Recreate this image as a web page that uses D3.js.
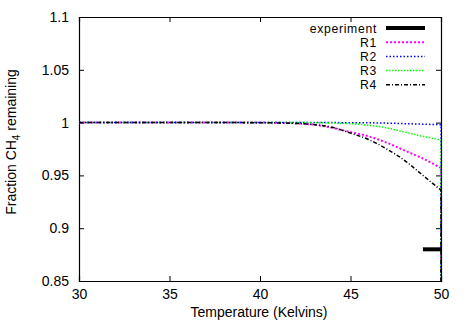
<!DOCTYPE html>
<html><head><meta charset="utf-8">
<script src="https://cdn.jsdelivr.net/npm/d3@7"></script>
<style>body{margin:0;background:#fff}svg{font-family:"Liberation Sans",Arial,sans-serif}</style>
</head><body><svg id="c" width="467" height="327"></svg>
<script>
const temps = [30,32,34,36,38,40,41,42,43,44,45,46,47,48,49,50];
const r1 = [1,1,1,1,1,1,0.9998,0.9993,0.998,0.995,0.991,0.987,0.981,0.9735,0.966,0.957];
const r2 = [1,1,1,1,1,1,1,1,1,1,0.9999,0.9998,0.9995,0.999,0.9985,0.998];
const r3 = [1,1,1,1,1,1,1,1,0.9999,0.9996,0.999,0.9975,0.995,0.991,0.987,0.9835];
const r4 = [1,1,1,1,1,0.9999,0.9997,0.9992,0.998,0.9955,0.990,0.984,0.975,0.964,0.950,0.936];
const dropTo = 0.85;
const expT = [49,50];
const expV = [0.88,0.88];
const xTicks = [30,35,40,45,50];
const yTicks = [0.85,0.9,0.95,1,1.05,1.1];
const seriesNames = ["R1","R2","R3","R4"];

const svg = d3.select("#c");
const L=79, R=441, T=17, B=281;
const FS = 14;
const x = d3.scaleLinear().domain([30,50]).range([L,R]);
const y = d3.scaleLinear().domain([0.85,1.1]).range([B,T]);

const styles = [
  {color:"#ff00ff", dash:"2,2", w:2},
  {color:"#0000ff", dash:"1.5,2", w:1.5},
  {color:"#00ff00", dash:"1.5,1.5", w:1.5},
  {color:"#000000", dash:"4,2,1,2", w:1.5}
];
const data = [r1,r2,r3,r4];

svg.append("defs").append("clipPath").attr("id","clip")
  .append("rect").attr("x",L).attr("y",T).attr("width",R-L).attr("height",B-T);

const fmt = d => String(+d.toFixed(2));
const gx = svg.append("g").attr("transform",`translate(0,${B})`)
  .call(d3.axisBottom(x).tickValues(xTicks).tickSize(-5).tickPadding(8).tickFormat(fmt));
const gxt = svg.append("g").attr("transform",`translate(0,${T})`)
  .call(d3.axisTop(x).tickValues(xTicks).tickSize(-5).tickFormat(""));
const gy = svg.append("g").attr("transform",`translate(${L},0)`)
  .call(d3.axisLeft(y).tickValues(yTicks).tickSize(-5).tickPadding(10).tickFormat(fmt));
const gyr = svg.append("g").attr("transform",`translate(${R},0)`)
  .call(d3.axisRight(y).tickValues(yTicks).tickSize(-5).tickFormat(""));
[gx,gxt,gy,gyr].forEach(g=>{
  g.select(".domain").attr("stroke","#000").attr("stroke-width",1.2);
  g.selectAll(".tick line").attr("stroke","#000");
  g.selectAll("text").attr("font-size",FS).attr("fill","#000").attr("font-family","Liberation Sans, Arial, sans-serif");
});

const line = d3.line().x((d,i)=>x(temps[i])).y(d=>y(d)).curve(d3.curveMonotoneX);
const plot = svg.append("g").attr("clip-path","url(#clip)");
data.forEach((s,i)=>{
  const d = line(s) + "L" + x(temps[temps.length-1]) + "," + y(dropTo);
  plot.append("path").attr("d",d).attr("fill","none")
    .attr("stroke",styles[i].color).attr("stroke-width",styles[i].w)
    .attr("stroke-dasharray",styles[i].dash);
});
plot.append("path").datum(expV)
  .attr("d",d3.line().x((d,i)=>x(expT[i])).y(d=>y(d)))
  .attr("stroke","#000").attr("stroke-width",4).attr("fill","none");

const lg = svg.append("g");
const rows = [{n:"experiment",c:"#000",dash:null,w:4}].concat(seriesNames.map((n,i)=>({n,c:styles[i].color,dash:styles[i].dash,w:styles[i].w})));
rows.forEach((r,i)=>{
  const yy = 28 + i*14.2;
  lg.append("text").attr("x",377).attr("y",yy+4.5).attr("text-anchor","end")
    .attr("font-size",12.2).attr("letter-spacing",0.7).text(r.n);
  lg.append("line").attr("x1",386).attr("x2",425).attr("y1",yy).attr("y2",yy)
    .attr("stroke",r.c).attr("stroke-width",r.w).attr("stroke-dasharray",r.dash);
});

svg.append("text").attr("x",259).attr("y",317).attr("text-anchor","middle")
  .attr("font-size",FS).text("Temperature (Kelvins)");
const yl = svg.append("text").attr("transform","translate(16,142) rotate(-90)")
  .attr("text-anchor","middle").attr("font-size",FS);
yl.append("tspan").text("Fraction CH");
yl.append("tspan").attr("font-size",10).attr("dy",4).text("4");
yl.append("tspan").attr("dy",-4).text(" remaining");
</script></body></html>
